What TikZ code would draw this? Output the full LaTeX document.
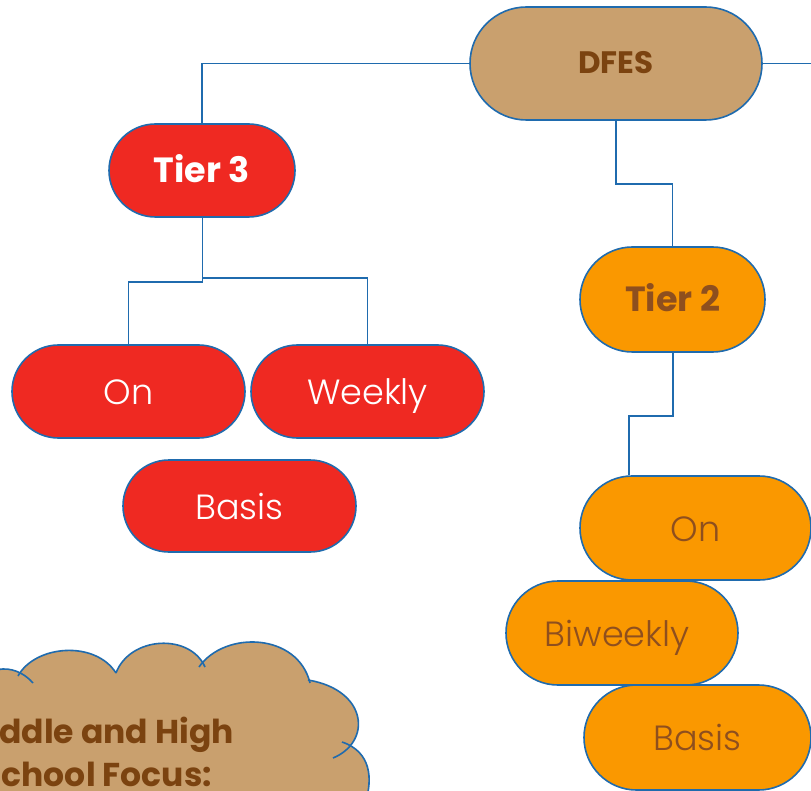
\documentclass[tikz,border=0pt]{standalone}
\usepackage{fontspec}
\setmainfont{Poppins}
\newfontfamily\lightfont{Poppins Light}
\usetikzlibrary{shapes.misc}
\definecolor{lineblue}{HTML}{1F6BAE}
\definecolor{tan}{HTML}{C9A06E}
\definecolor{darkbrown}{HTML}{7B4310}
\definecolor{redfill}{HTML}{EF2922}
\definecolor{orangefill}{HTML}{FA9800}
\definecolor{orangetext}{HTML}{8E4F1E}
\tikzset{
  pill/.style={rounded rectangle, draw=lineblue, line width=1.6pt, inner sep=0pt},
  conn/.style={draw=lineblue, line width=1.8pt},
  boldtxt/.style={font=\bfseries\fontsize{35}{38}\selectfont, text height=29pt, text depth=4pt},
  lighttxt/.style={font=\lightfont\fontsize{35}{38}\selectfont, text height=30pt, text depth=4pt},
  redpill/.style={pill, fill=redfill, text=white},
  orangepill/.style={pill, fill=orangefill, text=orangetext},
  cloudpart/.style={draw=lineblue, line width=1.6pt},
  cloudtxt/.style={anchor=base east, inner sep=0pt, text=darkbrown, font=\bfseries\fontsize{33}{36}\selectfont},
}
\begin{document}
\begin{tikzpicture}[x=1pt,y=-1pt]
\useasboundingbox (0,0) rectangle (811,791);
\clip (0,0) rectangle (811,791);
\fill[white] (0,0) rectangle (811,791);

% nodes
\node[pill, fill=tan, text=darkbrown, minimum width=292pt, minimum height=113pt, font=\bfseries\fontsize{31}{34}\selectfont, text height=25pt, text depth=4pt] (dfes) at (616,63.5) {DFES};
\node[redpill, boldtxt, minimum width=186pt, minimum height=93pt] (t3) at (202,170.5) {Tier 3};
\node[redpill, lighttxt, minimum width=233pt, minimum height=93pt] (on3) at (128.5,391.5) {On};
\node[redpill, lighttxt, minimum width=233pt, minimum height=93pt] (wk3) at (367.5,391.5) {Weekly};
\node[redpill, lighttxt, minimum width=233pt, minimum height=92pt] (bs3) at (239.5,506) {Basis};
\node[orangepill, boldtxt, minimum width=185pt, minimum height=105pt] (t2) at (672.5,299.5) {Tier 2};
\node[orangepill, lighttxt, minimum width=231pt, minimum height=104pt] (on2) at (695.5,528) {On};
\node[orangepill, lighttxt, minimum width=232pt, minimum height=104pt] (bw2) at (622,633) {\hspace*{-10pt}Biweekly};
\node[orangepill, lighttxt, minimum width=227pt, minimum height=105pt] (bs2) at (697.5,737.5) {Basis};

\coordinate (redge) at (815,63.5);

% connectors
\draw[conn] (dfes.west) -| (t3.north);
\draw[conn] (dfes.east) -- (redge);
\draw[conn] ([xshift=0.5pt]t3.south) -- ++(0,64) -| (on3.north);
\draw[conn] ([xshift=0.5pt]t3.south) -- ++(0,60) -| (wk3.north);
\draw[conn] (dfes.south) -- ++(0,63) -| (t2.north);
\draw[conn] ([xshift=0.5pt]t2.south) -- ++(0,63.5) -| ([xshift=-66.5pt]on2.north);

% cloud
\fill[tan] (-40,800) -- (-40,700)
  .. controls (-10,655) and (20,668) .. (33,683) -- (18,676)
  .. controls (35,645) and (95,640) .. (116,673)
  .. controls (130,636) and (190,633) .. (205,667) -- (199,667)
  .. controls (225,630) and (298,633) .. (310,683) -- (308,680)
  .. controls (368,690) and (372,742) .. (333,758) -- (342,742)
  .. controls (372,752) and (372,780) .. (366,800) -- cycle;
\draw[cloudpart] (-40,700) .. controls (-10,655) and (20,668) .. (33,683);
\draw[cloudpart] (18,676) .. controls (35,645) and (95,640) .. (116,673);
\draw[cloudpart] (116,673) .. controls (130,636) and (190,633) .. (205,667);
\draw[cloudpart] (199,667) .. controls (225,630) and (298,633) .. (310,683);
\draw[cloudpart] (308,680) .. controls (368,690) and (372,742) .. (333,758);
\draw[cloudpart] (342,742) .. controls (372,752) and (372,780) .. (366,800);
\node[cloudtxt] (cl1) at (234,743) {Middle and High};
\node[cloudtxt] (cl2) at (212,786) {School Focus:};
\end{tikzpicture}
\end{document}
